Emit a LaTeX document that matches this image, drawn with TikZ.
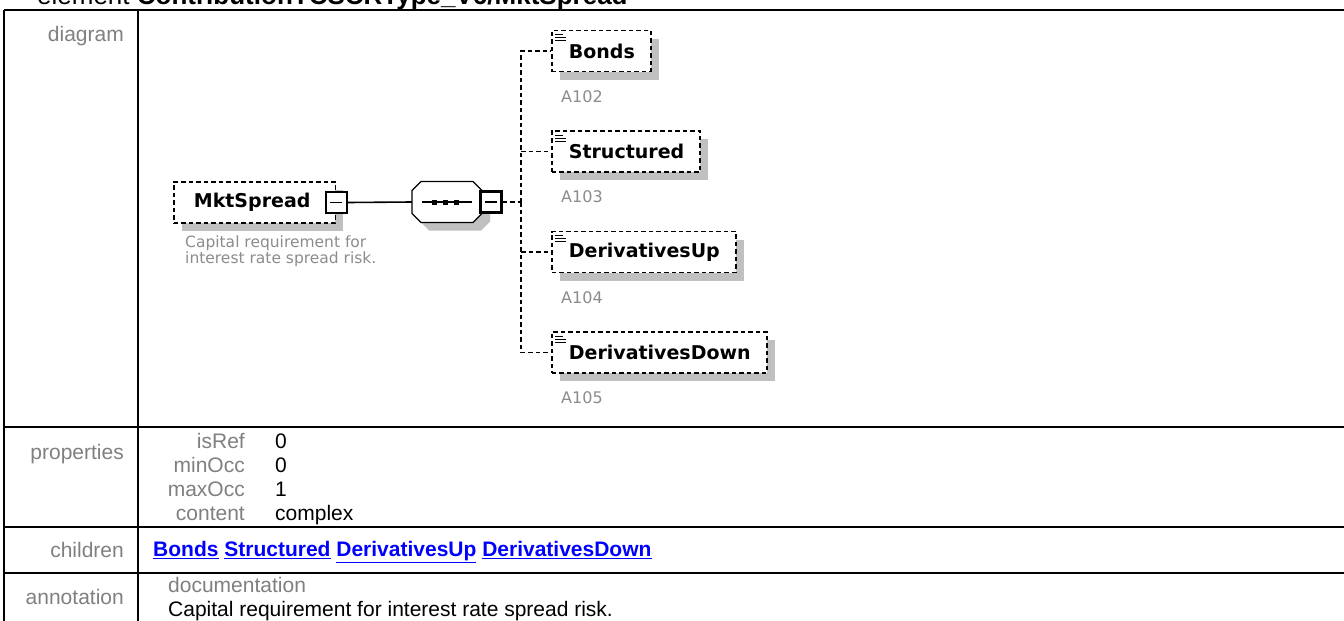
\documentclass[tikz,border=0pt]{standalone}
\usepackage{fontspec}
\setmainfont{Liberation Sans}
\newfontfamily\dvs{DejaVu Sans}
\usetikzlibrary{calc,shadows}
\definecolor{lbl}{RGB}{128,128,128}
\definecolor{shd}{RGB}{192,192,192}
\definecolor{anno}{RGB}{140,140,140}
\definecolor{lnk}{RGB}{0,0,255}
\begin{document}
\begin{tikzpicture}[x=1pt,y=-1pt,
  tline/.style={line width=2pt},
  elbox/.style={draw, dash pattern=on 4.5pt off 3pt, line width=1.7pt, fill=white,
    minimum height=41pt, inner xsep=0pt, inner ysep=0pt, anchor=west,
    font=\dvs\bfseries\fontsize{19}{22}\selectfont,
    drop shadow={shadow xshift=8pt, shadow yshift=-8pt, fill=shd, opacity=1}},
  chbox/.style={elbox, path picture={
    \draw[solid, line width=1pt] ($(path picture bounding box.north west)+(3,4)$) -- ++(8,0);
    \draw[solid, line width=1pt] ($(path picture bounding box.north west)+(3,7)$) -- ++(11,0);
    \draw[solid, line width=1pt] ($(path picture bounding box.north west)+(3,10)$) -- ++(11,0);}},
  mbox/.style={draw, solid, line width=2.2pt, fill=white, minimum size=21pt, inner sep=0pt,
    path picture={\draw[line width=1.3pt] ([xshift=-6pt]path picture bounding box.center) -- ([xshift=6pt]path picture bounding box.center);}},
  dline/.style={line width=1.5pt, dash pattern=on 4.5pt off 3pt},
  sline/.style={line width=1.6pt},
  annot/.style={anchor=west, inner sep=0pt, text=anno, font=\dvs\fontsize{16}{18}\selectfont},
  tfont/.style={font=\fontsize{21}{24}\selectfont},
  rowlbl/.style={tfont, anchor=base east, inner sep=0pt, text=lbl},
  plabel/.style={tfont, anchor=base east, inner sep=0pt, text=lbl},
  pval/.style={tfont, anchor=base west, inner sep=0pt},
]
\useasboundingbox (0,0) rectangle (1344,621);
\fill[white] (0,0) rectangle (1344,621);

% title (cut at top, as in the reference)
\node[anchor=base west, inner sep=0pt, font=\fontsize{26}{30}\selectfont] (title) at (37,5)
  {element \textbf{ContributionTCSCRType\_V6/MktSpread}};

% table grid
\draw[tline] (4,10) -- (1344,10);
\draw[tline] (4,10) -- (4,621);
\draw[tline] (138,10) -- (138,621);
\draw[tline] (4,427) -- (1344,427);
\draw[tline] (4,527) -- (1344,527);
\draw[tline] (4,573) -- (1344,573);

% row labels
\node[rowlbl] (ldiag) at (124,41) {diagram};
\node[rowlbl] (lprop) at (124,459.5) {properties};
\node[rowlbl] (lchild) at (124,557) {children};
\node[rowlbl] (lanno) at (124,604.5) {annotation};

% properties
\node[plabel] (p1) at (245,448.5) {isRef};   \node[pval] (v1) at (275,448.5) {0};
\node[plabel] (p2) at (245,472.5) {minOcc};  \node[pval] (v2) at (275,472.5) {0};
\node[plabel] (p3) at (245,496.5) {maxOcc};  \node[pval] (v3) at (275,496.5) {1};
\node[plabel] (p4) at (245,520.5) {content}; \node[pval] (v4) at (275,520.5) {complex};

% children
\node[anchor=base west, inner sep=0pt, text=lnk, font=\bfseries\fontsize{21}{24}\selectfont] (kids) at (153,556.5)
  {\underline{Bonds} \underline{Structured} \underline{DerivativesUp} \underline{DerivativesDown}};

% annotation
\node[tfont, anchor=base west, inner sep=0pt, text=lbl] (doclbl) at (168,592.5) {documentation};
\node[tfont, anchor=base west, inner sep=0pt] (doctxt) at (168,616.5) {Capital requirement for interest rate spread risk.};

% ---------- diagram ----------
\node[elbox] (mkt) at (173,202.5) {\hspace*{20pt}MktSpread\hspace*{25pt}};
\node[mbox] (m1) at (mkt.east) {};
\node[anchor=north west, inner sep=0pt, align=left, text=anno, font=\dvs\fontsize{15.5}{15.5}\selectfont] (mktdoc) at (185,236)
  {Capital requirement for\\interest rate spread risk.};

% sequence compositor
\node[minimum width=70pt, minimum height=41pt, inner sep=0pt] (seq) at (447,202) {};
\fill[shd, shift={(8,8)}] (421,181.5) -- (473,181.5) -- (482,190.5) -- (482,213.5) -- (473,222.5) -- (421,222.5) -- (412,213.5) -- (412,190.5) -- cycle;
\draw[line width=1.4pt, fill=white] (421,181.5) -- (473,181.5) -- (482,190.5) -- (482,213.5) -- (473,222.5) -- (421,222.5) -- (412,213.5) -- (412,190.5) -- cycle;
\draw[line width=1.4pt] (422,202) -- (472,202);
\fill (432,199.5) rectangle (437,204.5);
\fill (443,199.5) rectangle (448,204.5);
\fill (454,199.5) rectangle (459,204.5);
\node[mbox] (m2) at (491,202) {};

\draw[sline] (m1.east) -- (seq.west);

% children elements
\node[chbox] (c1) at (551,51)    {\hspace*{17pt}Bonds\hspace*{16pt}};
\node[chbox] (c2) at (551,151.5) {\hspace*{17pt}Structured\hspace*{16pt}};
\node[chbox] (c3) at (551,252)   {\hspace*{17pt}DerivativesUp\hspace*{16pt}};
\node[chbox] (c4) at (551,352.5) {\hspace*{17pt}DerivativesDown\hspace*{16pt}};

\node[annot] (a1) at ($(c1.south west)+(10,24)$) {A102};
\node[annot] (a2) at ($(c2.south west)+(10,24)$) {A103};
\node[annot] (a3) at ($(c3.south west)+(10,24)$) {A104};
\node[annot] (a4) at ($(c4.south west)+(10,24)$) {A105};

% connectors
\coordinate (jn) at (521,202);
\draw[dline] (m2.east) -- (jn);
\draw[dline] (jn) |- (c1.west);
\draw[dline] (jn) |- (c4.west);
\draw[dline] (jn |- c2.west) -- (c2.west);
\draw[dline] (jn |- c3.west) -- (c3.west);
\end{tikzpicture}
\end{document}
